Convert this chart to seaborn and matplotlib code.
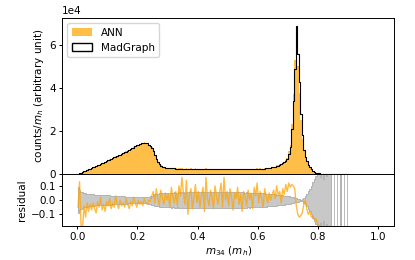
import numpy as np
import pandas as pd
import matplotlib
matplotlib.use("Agg")
import matplotlib.pyplot as plt
import seaborn as sns
from matplotlib.patches import Patch

# ---- data ----
bin_range = (0.0, 0.9)
n_bins = 180

# MadGraph counts / m_h in units of 1e4
madgraph = [
    0.01, 0.03, 0.06, 0.09, 0.12, 0.15, 0.18, 0.21, 0.24, 0.27,
    0.30, 0.33, 0.37, 0.40, 0.43, 0.47, 0.50, 0.53, 0.57, 0.60,
    0.63, 0.67, 0.70, 0.73, 0.77, 0.80, 0.84, 0.87, 0.90, 0.94,
    0.97, 1.00, 1.04, 1.07, 1.11, 1.15, 1.19, 1.23, 1.28, 1.33,
    1.37, 1.40, 1.43, 1.45, 1.46, 1.45, 1.42, 1.37, 1.30, 1.20,
    1.05, 0.88, 0.70, 0.55, 0.45, 0.38, 0.34, 0.31, 0.29, 0.28,
    0.27, 0.27, 0.26, 0.26, 0.26, 0.25, 0.25, 0.25, 0.25, 0.24,
    0.24, 0.24, 0.24, 0.24, 0.23, 0.24, 0.23, 0.23, 0.23, 0.23,
    0.23, 0.23, 0.22, 0.23, 0.22, 0.22, 0.22, 0.22, 0.22, 0.22,
    0.22, 0.21, 0.22, 0.21, 0.21, 0.21, 0.21, 0.21, 0.21, 0.21,
    0.21, 0.21, 0.21, 0.21, 0.21, 0.21, 0.21, 0.21, 0.21, 0.22,
    0.22, 0.22, 0.22, 0.22, 0.22, 0.22, 0.23, 0.23, 0.23, 0.23,
    0.23, 0.24, 0.24, 0.25, 0.25, 0.26, 0.27, 0.28, 0.29, 0.30,
    0.32, 0.34, 0.36, 0.39, 0.42, 0.45, 0.49, 0.54, 0.60, 0.70,
    0.95, 1.25, 2.10, 3.40, 4.90, 6.90, 5.60, 4.30, 2.80, 1.80,
    1.10, 0.80, 0.60, 0.42, 0.30, 0.21, 0.14, 0.09, 0.06, 0.04,
    0.025, 0.015, 0.010, 0.007, 0.005, 0.004, 0.003, 0.002, 0.002, 0.001,
    0.001, 0.001, 0.001, 0.001, 0.001, 0.001, 0.001, 0.001, 0.001, 0.001,
]

nan = float("nan")
# residual of ANN w.r.t. MadGraph
residual = [
    -0.05, 0.13, -0.19, -0.19, -0.04, -0.12, -0.02, -0.08, -0.03, -0.07,
    -0.02, -0.06, -0.09, -0.01, -0.05, 0.02, -0.07, -0.03, -0.08, -0.01,
    -0.04, 0.01, -0.06, -0.02, -0.05, 0.03, -0.03, -0.06, 0.00, -0.04,
    -0.02, -0.05, 0.01, -0.03, -0.06, -0.01, -0.04, 0.02, -0.02, -0.05,
    0.00, -0.03, -0.01, -0.04, 0.01, -0.02, -0.03, 0.00, -0.01, 0.03,
    0.06, -0.02, 0.08, 0.01, -0.04, 0.07, 0.02, -0.03, 0.05, 0.00,
    0.04, -0.05, 0.09, 0.02, -0.02, 0.06, -0.04, 0.10, 0.03, 0.16,
    0.05, -0.03, 0.14, -0.10, 0.04, 0.08, -0.06, 0.02, 0.11, -0.02,
    0.06, -0.05, 0.03, 0.09, -0.08, 0.16, 0.01, -0.04, 0.07, 0.02,
    -0.06, 0.10, 0.03, -0.03, 0.05, 0.12, -0.05, 0.16, 0.00, 0.06,
    -0.04, 0.08, 0.02, -0.07, 0.05, 0.01, 0.09, -0.03, 0.04, -0.08,
    0.06, 0.02, -0.04, 0.07, 0.00, 0.05, -0.06, 0.09, 0.03, 0.12,
    -0.02, 0.06, 0.01, -0.05, 0.08, 0.03, -0.02, 0.05, 0.00, 0.04,
    0.07, 0.01, 0.10, 0.03, 0.06, -0.02, 0.08, 0.04, 0.11, 0.06,
    0.12, 0.09, 0.11, 0.10, 0.08, -0.04, -0.10, -0.12, -0.11, -0.09,
    -0.03, 0.00, -0.06, -0.10, -0.08, -0.12, -0.11, -0.14, -0.13, -0.16,
    -0.18, -0.19, nan, nan, nan, nan, nan, nan, nan, nan,
    nan, nan, nan, nan, nan, nan, nan, nan, nan, nan,
]

# MadGraph statistical uncertainty (relative)
mg_err = [
    0.090, 0.070, 0.060, 0.055, 0.050, 0.048, 0.046, 0.044, 0.042, 0.041,
    0.040, 0.039, 0.038, 0.037, 0.037, 0.036, 0.035, 0.035, 0.034, 0.034,
    0.033, 0.033, 0.032, 0.031, 0.031, 0.030, 0.029, 0.029, 0.028, 0.027,
    0.026, 0.026, 0.025, 0.025, 0.024, 0.024, 0.023, 0.023, 0.022, 0.022,
    0.022, 0.021, 0.021, 0.021, 0.021, 0.022, 0.023, 0.025, 0.028, 0.032,
    0.036, 0.040, 0.043, 0.045, 0.047, 0.048, 0.049, 0.050, 0.050, 0.051,
    0.052, 0.051, 0.053, 0.052, 0.054, 0.053, 0.052, 0.055, 0.053, 0.054,
    0.055, 0.053, 0.056, 0.054, 0.055, 0.057, 0.054, 0.056, 0.055, 0.057,
    0.056, 0.058, 0.055, 0.057, 0.056, 0.058, 0.057, 0.056, 0.058, 0.057,
    0.058, 0.056, 0.057, 0.059, 0.057, 0.058, 0.056, 0.058, 0.057, 0.056,
    0.057, 0.055, 0.057, 0.056, 0.055, 0.057, 0.055, 0.054, 0.056, 0.054,
    0.055, 0.053, 0.054, 0.052, 0.053, 0.051, 0.052, 0.050, 0.051, 0.050,
    0.049, 0.049, 0.048, 0.047, 0.047, 0.046, 0.045, 0.044, 0.043, 0.042,
    0.041, 0.040, 0.039, 0.037, 0.036, 0.035, 0.033, 0.032, 0.030, 0.029,
    0.027, 0.025, 0.023, 0.020, 0.017, 0.014, 0.010, 0.006, 0.003, 0.008,
    0.018, 0.030, 0.045, 0.062, 0.080, 0.100, 0.125, 0.150, 0.170, 0.190,
    0.20, 0.16, 0.30, 0.15, 0.25, 0.17, 0.40, 0.60, 1.00, nan,
    1.00, nan, 1.00, nan, 1.00, 1.00, nan, 1.00, nan, 1.00,
]

x_ticks = [0.0, 0.2, 0.4, 0.6, 0.8, 1.0]
top_yticks = [0, 2e4, 4e4, 6e4]
res_yticks = [-0.1, 0.0, 0.1]

# ---- derived ----
edges = np.linspace(bin_range[0], bin_range[1], n_bins + 1)
centers = (edges[:-1] + edges[1:]) / 2
mg = np.array(madgraph) * 1e4
res = np.array(residual, dtype=float)
err = np.array(mg_err, dtype=float)
ann = mg * (1 + np.nan_to_num(res))
df = pd.DataFrame({"m34": centers, "ann": ann, "mg": mg, "res": res, "err": err})

plt.rcParams["font.size"] = 7.5
plt.rcParams["font.family"] = ["DejaVu Sans"]
for ax_name in ("xtick", "ytick"):
    plt.rcParams[f"{ax_name}.major.size"] = 2.4
    plt.rcParams[f"{ax_name}.major.pad"] = 2.0
    plt.rcParams[f"{ax_name}.major.width"] = 0.7
plt.rcParams["axes.linewidth"] = 0.7
plt.rcParams["axes.labelpad"] = 2.5

ORANGE = "orange"
ALPHA = 0.72

fig = plt.figure(figsize=(4.15, 2.6), dpi=100)
ax1 = fig.add_axes([0.150, 0.331, 0.800, 0.599])
ax2 = fig.add_axes([0.150, 0.131, 0.800, 0.200], sharex=ax1)

sns.histplot(data=df, x="m34", weights="ann", bins=n_bins, binrange=bin_range,
             element="bars", color=ORANGE, alpha=ALPHA, linewidth=0, ax=ax1)
sns.histplot(data=df, x="m34", weights="mg", bins=n_bins, binrange=bin_range,
             element="step", fill=False, color="black", linewidth=0.8, ax=ax1)
ax1.set_ylim(0, 7.25e4)
ax1.set_yticks(top_yticks)
ax1.ticklabel_format(axis="y", style="sci", scilimits=(0, 0))
ax1.set_ylabel("counts/$m_h$ (arbitrary unit)")
ax1.tick_params(axis="x", bottom=False, labelbottom=False)
ax1.set_xlabel("")
handles = [Patch(facecolor=ORANGE, alpha=ALPHA, label="ANN"),
           Patch(facecolor="white", edgecolor="black", label="MadGraph")]
ax1.legend(handles=handles, loc="upper left", fontsize=7.5)

ax2.fill_between(df["m34"], -df["err"], df["err"], step="mid",
                 facecolor="#c8c8c8", edgecolor="#a0a0a0", linewidth=0.5)
sns.lineplot(data=df, x="m34", y="res", color=ORANGE, alpha=0.75,
             linewidth=1.0, estimator=None, ax=ax2)
ax2.set_ylim(-0.182, 0.184)
ax2.set_yticks(res_yticks)
ax2.set_ylabel("residual")
ax2.set_xlim(-0.05, 1.053)
ax2.set_xticks(x_ticks)
ax2.set_xlabel("$m_{34}$ ($m_h$)", labelpad=1.5)

fig.savefig("out.png", dpi=100)
